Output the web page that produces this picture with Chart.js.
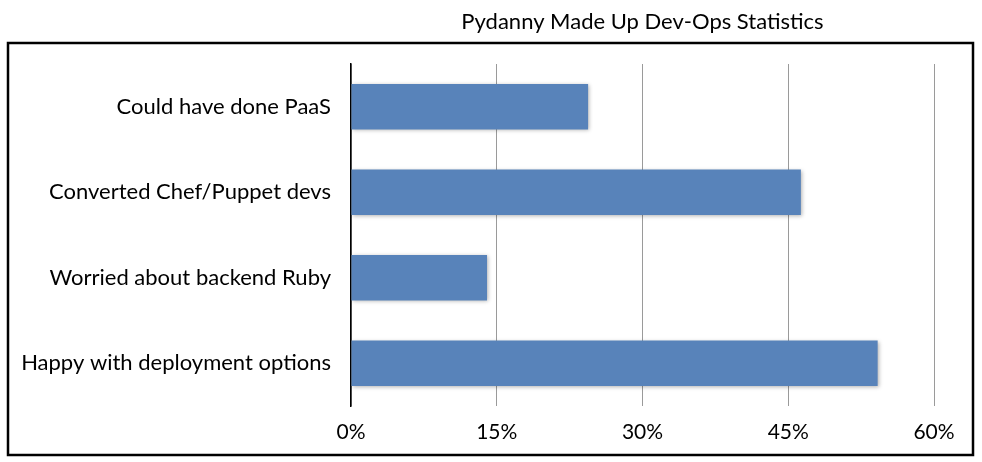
<!DOCTYPE html>
<html>
<head>
<meta charset="utf-8">
<script src="https://cdn.jsdelivr.net/npm/chart.js@4/dist/chart.umd.min.js"></script>
<style>
  html, body { margin: 0; padding: 0; background: #fff; }
</style>
</head>
<body>
<canvas id="devopsChart" width="982" height="462"></canvas>
<script>
const titleText = "Pydanny Made Up Dev-Ops Statistics";
const categories = [
    "Could have done PaaS",
    "Converted Chef/Puppet devs",
    "Worried about backend Ruby",
    "Happy with deployment options",
];
const percentages = [24.4, 46.3, 14.0, 54.2];
const tickValues = [0, 15, 30, 45, 60];

const fontFamily = "Lato, 'Open Sans', sans-serif";

// border box + title centred over the plot area, like the spreadsheet original
const frameAndTitle = {
    id: "frameAndTitle",
    beforeDraw(chart) {
        const ctx = chart.ctx;
        ctx.save();
        ctx.fillStyle = "#fff";
        ctx.fillRect(0, 0, chart.width, chart.height);
        ctx.restore();
    },
    afterDraw(chart) {
        const ctx = chart.ctx;
        const area = chart.chartArea;
        ctx.save();
        ctx.strokeStyle = "#000";
        ctx.lineWidth = 2.5;
        ctx.strokeRect(8, 43, 965, 412);
        ctx.fillStyle = "#000";
        ctx.font = "22px " + fontFamily;
        ctx.textAlign = "center";
        ctx.textBaseline = "middle";
        ctx.fillText(titleText, (area.left + area.right) / 2, 22);
        ctx.restore();
    },
};

const barShadow = {
    id: "barShadow",
    beforeDatasetsDraw(chart) {
        const ctx = chart.ctx;
        ctx.save();
        ctx.shadowColor = "rgba(0,0,0,0.3)";
        ctx.shadowBlur = 4;
        ctx.shadowOffsetX = 1;
        ctx.shadowOffsetY = 1;
    },
    afterDatasetsDraw(chart) {
        chart.ctx.restore();
    },
};

const ctx = document.getElementById("devopsChart").getContext("2d");
new Chart(ctx, {
    type: "bar",
    data: {
        labels: categories,
        datasets: [{
            data: percentages,
            backgroundColor: "#5883ba",
            borderWidth: 0,
            categoryPercentage: 1,
            barPercentage: 0.53,
        }],
    },
    options: {
        indexAxis: "y",
        responsive: false,
        animation: false,
        layout: { padding: { top: 64, right: 48, bottom: 16, left: 0 } },
        plugins: {
            legend: { display: false },
            tooltip: { enabled: false },
        },
        scales: {
            x: {
                min: 0,
                max: 60,
                afterBuildTicks: (scale) => {
                    scale.ticks = tickValues.map((v) => ({ value: v }));
                },
                afterFit: (scale) => { scale.height = 40; },
                grid: { color: "#9a9a9a", lineWidth: 1, drawTicks: false },
                border: { display: false },
                ticks: {
                    padding: 14,
                    color: "#000",
                    font: { family: fontFamily, size: 21 },
                    callback: (v) => v + "%",
                },
            },
            y: {
                afterFit: (scale) => { scale.width = 351; },
                grid: { display: false, drawTicks: false },
                border: { display: true, color: "#000", width: 1.5 },
                ticks: {
                    padding: 20,
                    color: "#000",
                    font: { family: fontFamily, size: 22 },
                },
            },
        },
    },
    plugins: [frameAndTitle, barShadow],
});
</script>
</body>
</html>
